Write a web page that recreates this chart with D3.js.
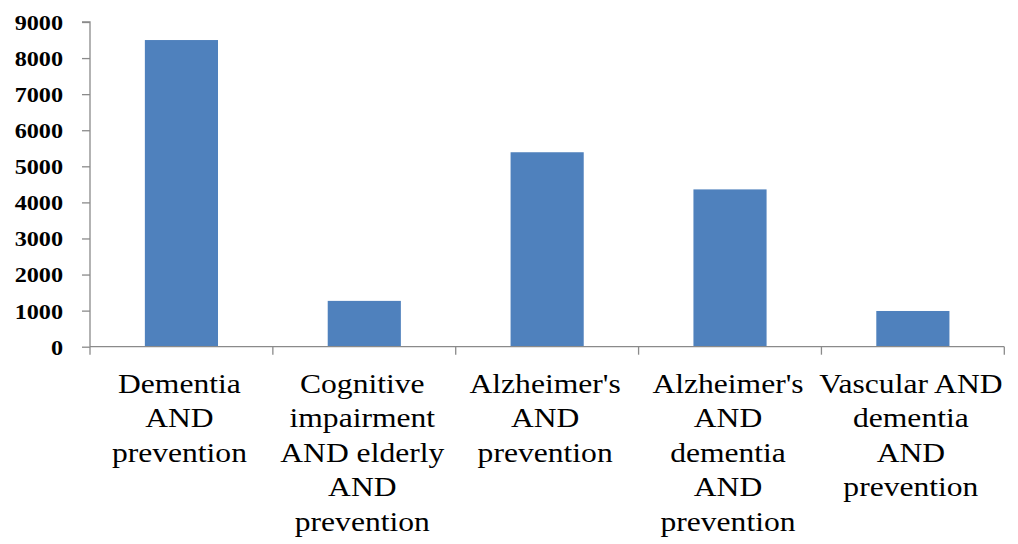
<!DOCTYPE html>
<html>
<head>
<meta charset="utf-8">
<script src="https://cdn.jsdelivr.net/npm/d3@7"></script>
<style>
  html, body { margin: 0; padding: 0; background: #fff; }
  svg { display: block; }
</style>
</head>
<body>
<svg id="chart" width="1018" height="544"></svg>
<script>
// Search queries and number of results found for each
const categories = [
  ["Dementia", "AND", "prevention"],
  ["Cognitive", "impairment", "AND elderly", "AND", "prevention"],
  ["Alzheimer's", "AND", "prevention"],
  ["Alzheimer's", "AND", "dementia", "AND", "prevention"],
  ["Vascular AND", "dementia", "AND", "prevention"]
];
const values = [8500, 1270, 5390, 4360, 990];
const yTicks = [0, 1000, 2000, 3000, 4000, 5000, 6000, 7000, 8000, 9000];

const svg = d3.select("#chart");
const plotLeft = 90, plotRight = 1004.3, plotTop = 22, plotBottom = 346.7;
const axisColor = "#8a8a8a";

const keys = categories.map((c, i) => i);
const x = d3.scaleBand().domain(keys).range([plotLeft, plotRight]).padding(0);
const y = d3.scaleLinear().domain([0, 9000]).range([plotBottom, plotTop]);
const barW = x.bandwidth() * 0.4;

// Bars
svg.append("g").selectAll("rect")
  .data(values)
  .join("rect")
  .attr("x", (d, i) => x(i) + (x.bandwidth() - barW) / 2)
  .attr("y", d => y(d))
  .attr("width", barW)
  .attr("height", d => y(0) - y(d))
  .attr("fill", "#4f81bd");

// Y axis
const yAxis = svg.append("g")
  .attr("transform", `translate(${plotLeft},0)`)
  .call(d3.axisLeft(y).tickValues(yTicks).tickSize(8).tickFormat(""));
yAxis.selectAll("path, line").attr("stroke", axisColor).attr("stroke-width", 1.3);
yAxis.select(".domain").attr("d", `M-8,${plotTop}H0V${plotBottom}`);

// Y tick labels
svg.append("g").selectAll("text")
  .data(yTicks)
  .join("text")
  .attr("transform", d => `translate(63,${y(d)}) scale(1.1,1)`)
  .attr("dy", "0.36em")
  .attr("text-anchor", "end")
  .attr("font-family", "'Liberation Serif', 'Times New Roman', serif")
  .attr("font-weight", "bold")
  .attr("font-size", 22)
  .attr("fill", "#000")
  .text(d => d);

// X axis: baseline with ticks at band boundaries
const bounds = keys.map(k => x(k)).concat([plotRight]);
const xg = svg.append("g");
xg.append("line")
  .attr("x1", plotLeft).attr("x2", plotRight)
  .attr("y1", plotBottom).attr("y2", plotBottom)
  .attr("stroke", axisColor).attr("stroke-width", 1.3);
xg.selectAll("line.tick")
  .data(bounds)
  .join("line")
  .attr("class", "tick")
  .attr("x1", d => d).attr("x2", d => d)
  .attr("y1", plotBottom).attr("y2", plotBottom + 8)
  .attr("stroke", axisColor).attr("stroke-width", 1.3);

// X category labels
const lineH = 34.4;
svg.append("g").selectAll("text")
  .data(categories)
  .join("text")
  .attr("transform", (d, i) => `translate(${x(i) + x.bandwidth() / 2 - 2},393) scale(1.17,1)`)
  .attr("text-anchor", "middle")
  .attr("font-family", "'Liberation Serif', 'Times New Roman', serif")
  .attr("font-size", 27)
  .attr("fill", "#000")
  .selectAll("tspan")
  .data(d => d)
  .join("tspan")
  .attr("x", 0)
  .attr("y", (d, j) => j * lineH)
  .text(d => d);
</script>
</body>
</html>
